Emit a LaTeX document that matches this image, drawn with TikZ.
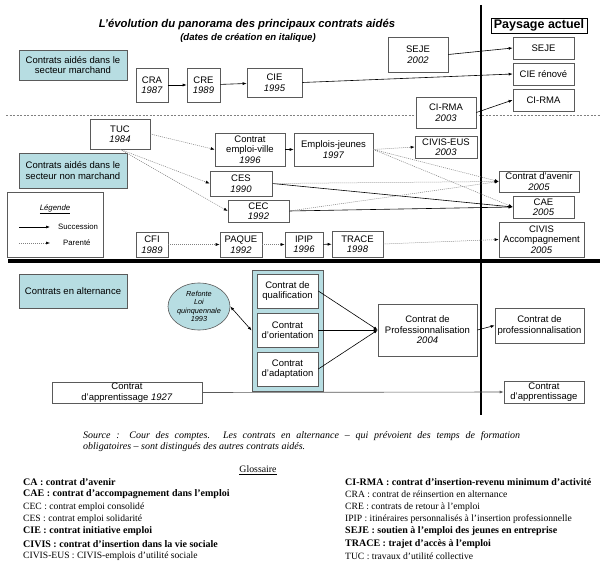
\documentclass[tikz,border=0pt]{standalone}
\usepackage{fontspec}
\setmainfont{Liberation Serif}
\setsansfont{Liberation Sans}
\usetikzlibrary{arrows.meta,shapes.geometric,calc}
\definecolor{tealfill}{RGB}{183,221,226}
\definecolor{boxline}{RGB}{90,90,90}
\begin{document}
\begin{tikzpicture}[x=1pt,y=-1pt,
  bx/.style={draw=boxline, fill=white, line width=0.6pt, align=center, inner sep=0pt, font=\sffamily\fontsize{9.5}{10.5}\selectfont},
  tealbx/.style={bx, fill=tealfill},
  succ/.style={-{Latex[length=4pt,width=3pt]}, line width=0.6pt, black},
  par/.style={-{Latex[length=4pt,width=3pt,black]}, line width=0.5pt, gray, dash pattern=on 1pt off 1pt},
  gl/.style={anchor=west, inner sep=0pt, font=\fontsize{9.6}{11}\selectfont},
  glb/.style={gl, font=\bfseries\fontsize{10}{11}\selectfont},
  lg/.style={anchor=west, font=\sffamily\fontsize{7.8}{9}\selectfont, inner sep=0pt}]
\useasboundingbox (0,0) rectangle (603,567);
\fill[white] (0,0) rectangle (603,567);
% separators
\draw[gray, line width=0.6pt, dash pattern=on 2pt off 1.5pt] (6,115) -- (600,115);
\draw[black, line width=3.5pt] (8,261) -- (600,261);
\draw[black, line width=2.2pt] (481,5) -- (481,415);
% titles
\node[font=\sffamily\bfseries\itshape\fontsize{11.3}{13}\selectfont] (title) at (247,25) {L'évolution du panorama des principaux contrats aidés};
\node[font=\sffamily\bfseries\itshape\fontsize{9.6}{11}\selectfont] (subtitle) at (248,38) {(dates de création en italique)};
\node[draw=black, line width=0.8pt, font=\sffamily\bfseries\fontsize{12.5}{14}\selectfont, inner sep=0pt, minimum width=96, minimum height=15] (pays) at (539,25.5) {Paysage actuel};
% top section
\node[tealbx, minimum width=108, minimum height=30] (marchand) at (73,65) {Contrats aidés dans le\\secteur marchand};
\node[bx, minimum width=32, minimum height=34] (cra) at (152,85) {CRA\\\textit{1987}};
\node[bx, minimum width=33, minimum height=34] (cre) at (203.5,85) {CRE\\\textit{1989}};
\node[bx, minimum width=55, minimum height=29] (cie) at (274.5,82.5) {CIE\\\textit{1995}};
\node[bx, minimum width=60, minimum height=35] (seje02) at (418,54.5) {SEJE\\\textit{2002}};
\node[bx, minimum width=60, minimum height=31] (cirma03) at (446,112.5) {CI-RMA\\\textit{2003}};
\node[bx, minimum width=61, minimum height=22] (sejeN) at (543.5,48) {SEJE};
\node[bx, minimum width=61, minimum height=22] (cieN) at (543.5,74) {CIE rénové};
\node[bx, minimum width=61, minimum height=22] (cirmaN) at (543.5,100) {CI-RMA};
\draw[succ] (cra) -- (cre);
\draw[succ] (cre) -- (cie);
\draw[succ] (cie.east) -- (cieN.west);
\draw[succ] (seje02.east) -- (sejeN.west);
\draw[succ] (cirma03.east) -- (cirmaN.west);
% middle section
\node[bx, minimum width=60, minimum height=30] (tuc) at (120,134) {TUC\\\textit{1984}};
\node[tealbx, minimum width=108, minimum height=35] (nonmarch) at (73,170.5) {Contrats aidés dans le\\secteur non marchand};
\node[bx, minimum width=96, minimum height=65] (legende) at (55,224.5) {};
\node[font=\sffamily\itshape\fontsize{7.8}{9}\selectfont, inner sep=0pt] (legt) at (55,209) {\underline{Légende}};
\coordinate (la1) at (19,227); \coordinate (lb1) at (50,227);
\coordinate (la2) at (19,243); \coordinate (lb2) at (50,243);
\draw[succ] (la1) -- (lb1);
\draw[par] (la2) -- (lb2);
\node[lg] (lsucc) at (58,227) {Succession};
\node[lg] (lpar) at (63,243) {Parenté};
\node[bx, minimum width=70, minimum height=33] (cev) at (250,149.5) {Contrat\\emploi-ville\\\textit{1996}};
\node[bx, minimum width=79, minimum height=33] (ej) at (333.5,149.5) {Emplois-jeunes\\\textit{1997}};
\node[bx, minimum width=62, minimum height=25] (ces) at (241,183.5) {CES\\\textit{1990}};
\node[bx, minimum width=61, minimum height=22] (cec) at (258.5,211) {CEC\\\textit{1992}};
\node[bx, minimum width=62, minimum height=22] (civiseus) at (446,147) {CIVIS-EUS\\\textit{2003}};
\node[bx, minimum width=80, minimum height=21] (cav) at (539,181.5) {Contrat d’avenir\\\textit{2005}};
\node[bx, minimum width=61, minimum height=22] (cae) at (543.5,207) {CAE\\\textit{2005}};
\node[bx, minimum width=85, minimum height=35] (civisacc) at (541.5,239.5) {CIVIS\\Accompagnement\\\textit{2005}};
\node[bx, minimum width=32, minimum height=25] (cfi) at (152,244.5) {CFI\\\textit{1989}};
\node[bx, minimum width=42, minimum height=25] (paque) at (241,244.5) {PAQUE\\\textit{1992}};
\node[bx, minimum width=38, minimum height=25] (ipip) at (304,244.5) {IPIP\\\textit{1996}};
\node[bx, minimum width=51, minimum height=26] (trace) at (357.5,244) {TRACE\\\textit{1998}};
\draw[par] (tuc.east) -- (cev.west);
\draw[par] (tuc.south) -- (ces.west);
\draw[par] (tuc.south) -- (cec.west);
\draw[succ] (cev) -- (ej);
\draw[par] (ej.east) -- (civiseus.west);
\draw[par] (ej.east) -- (cav.west);
\draw[par] (ej.east) -- (cae.west);
\draw[succ] (ces.east) -- (cae.west);
\draw[par] (ces.east) -- (cav.west);
\draw[succ] (cec.east) -- (cae.west);
\draw[par] (cec.east) -- (cav.west);
\draw[par] (cfi) -- (paque);
\draw[par] (paque) -- (ipip);
\draw[succ] (ipip) -- (trace);
\draw[par] (trace.east) -- (civisacc.west);
% bottom section
\node[tealbx, minimum width=108, minimum height=34] (altern) at (73,291) {Contrats en alternance};
\node[ellipse, draw=boxline, fill=tealfill, line width=0.6pt, minimum width=62, minimum height=47, inner sep=0pt, align=center, font=\sffamily\itshape\fontsize{7.3}{8.4}\selectfont] (refonte) at (199,306.5) {Refonte\\Loi\\quinquennale\\1993};
\node[draw=boxline, fill=tealfill, line width=0.8pt, minimum width=71, minimum height=121, inner sep=0pt] (group) at (287.5,330.5) {};
\node[bx, minimum width=61, minimum height=34] (qual) at (287.5,291) {Contrat de\\qualification};
\node[bx, minimum width=61, minimum height=34] (orient) at (287.5,330) {Contrat\\d’orientation};
\node[bx, minimum width=61, minimum height=34] (adapt) at (287.5,369) {Contrat\\d’adaptation};
\node[bx, minimum width=99, minimum height=52] (prof) at (427.5,330) {Contrat de\\Professionnalisation\\\textit{2004}};
\node[bx, minimum width=89, minimum height=35] (profN) at (539.5,325.5) {Contrat de\\professionnalisation};
\node[bx, minimum width=150, minimum height=21] (appr) at (127,392.5) {Contrat\\d’apprentissage \textit{1927}};
\node[bx, minimum width=80, minimum height=22] (apprN) at (544,392) {Contrat\\d’apprentissage};
\coordinate (conv) at (prof.west);
\draw[{Latex[length=4pt,width=3pt]}-{Latex[length=4pt,width=3pt]}, line width=0.6pt] (refonte.east) -- (group.west);
\draw[succ] (qual.east) -- (conv);
\draw[succ] (orient.east) -- (conv);
\draw[succ] (adapt.east) -- (conv);
\draw[succ] (prof.east) -- (profN.west);
\draw[succ, draw=boxline] (appr.east) -- (apprN.west);
% source and glossary
\node[anchor=base west, inner sep=0pt, font=\itshape\fontsize{10}{11}\selectfont] (src1) at (83,438) {\makebox[437pt][s]{Source : Cour des comptes. Les contrats en alternance – qui prévoient des temps de formation}};
\node[anchor=base west, inner sep=0pt, font=\itshape\fontsize{10}{11}\selectfont] (src2) at (83,449) {obligatoires – sont distingués des autres contrats aidés.};
\node[inner sep=0pt, font=\fontsize{9.8}{11}\selectfont] (gloss) at (258,470) {\underline{Glossaire}};
\node[glb] (g1) at (23,482) {CA : contrat d’avenir};
\node[glb] (g2) at (23,494.5) {CAE : contrat d’accompagnement dans l’emploi};
\node[gl] (g3) at (23,507) {CEC : contrat emploi consolidé};
\node[gl] (g4) at (23,519) {CES : contrat emploi solidarité};
\node[glb] (g5) at (23,531.5) {CIE : contrat initiative emploi};
\node[glb] (g6) at (23,544) {CIVIS : contrat d’insertion dans la vie sociale};
\node[gl] (g7) at (23,556.5) {CIVIS-EUS : CIVIS-emplois d’utilité sociale};
\node[glb] (g8) at (345,482) {CI-RMA : contrat d’insertion-revenu minimum d’activité};
\node[gl] (g9) at (345,494.5) {CRA : contrat de réinsertion en alternance};
\node[gl] (g10) at (345,507) {CRE : contrats de retour à l’emploi};
\node[gl] (g11) at (345,519) {IPIP : itinéraires personnalisés à l’insertion professionnelle};
\node[glb] (g12) at (345,531.5) {SEJE : soutien à l’emploi des jeunes en entreprise};
\node[glb] (g13) at (345,544) {TRACE : trajet d’accès à l’emploi};
\node[gl] (g14) at (345,556.5) {TUC : travaux d’utilité collective};
\end{tikzpicture}
\end{document}
